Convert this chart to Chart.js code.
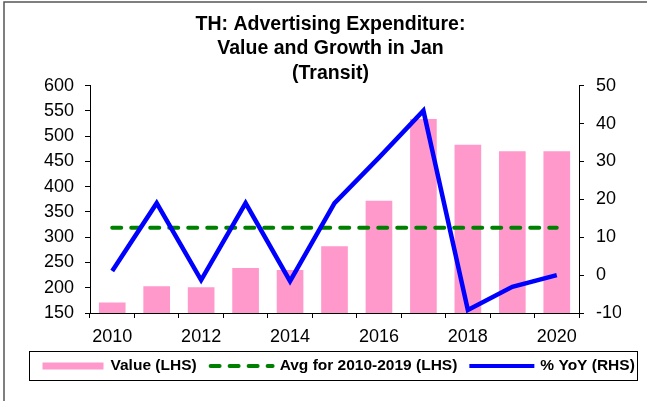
<!DOCTYPE html>
<html>
<head>
<meta charset="utf-8">
<script src="https://cdn.jsdelivr.net/npm/chart.js@4/dist/chart.umd.min.js"></script>
<style>
  body { margin: 0; background: #fff; }
  canvas { display: block; }
</style>
</head>
<body>
<canvas id="chart1" width="647" height="401"></canvas>
<script>
var years = ['2010', '2011', '2012', '2013', '2014', '2015', '2016', '2017', '2018', '2019', '2020'];
var valueLHS = [171, 203, 201, 239, 235, 282, 372, 534, 483, 470, 470];
var avgLHS = [319, 319, 319, 319, 319, 319, 319, 319, 319, 319, 319];
var yoyRHS = [1.1, 19.0, -1.3, 19.0, -1.6, 19.0, 31.0, 43.4, -9.2, -3.1, 0.0];

var FONT = "'Liberation Sans', Arial, sans-serif";

// frame + legend box drawn by hand
var extras = {
  id: 'extras',
  afterDraw: function (chart) {
    var ctx = chart.ctx;
    ctx.save();
    ctx.strokeStyle = '#555';
    ctx.lineWidth = 1.5;
    ctx.beginPath();
    ctx.moveTo(4, 401);
    ctx.lineTo(4, 2);
    ctx.lineTo(647, 2);
    ctx.stroke();

    // legend
    var bx = 29.5, by = 351.5, bw = 608, bh = 29;
    ctx.strokeStyle = '#000';
    ctx.lineWidth = 1;
    ctx.strokeRect(bx, by, bw, bh);
    var cy = by + bh / 2;
    ctx.font = 'bold 15.5px ' + FONT;
    ctx.fillStyle = '#000';
    ctx.textBaseline = 'middle';
    var x = bx + 13;

    ctx.fillStyle = '#FF99CC';
    ctx.fillRect(x, cy - 3.5, 61, 7);
    x += 61 + 7;
    ctx.fillStyle = '#000';
    var t1 = 'Value (LHS)';
    ctx.fillText(t1, x, cy);
    x += ctx.measureText(t1).width + 12;

    ctx.strokeStyle = '#008000';
    ctx.lineWidth = 4;
    ctx.lineCap = 'round';
    ctx.setLineDash([9, 10]);
    ctx.beginPath();
    ctx.moveTo(x + 2, cy);
    ctx.lineTo(x + 64, cy);
    ctx.stroke();
    ctx.setLineDash([]);
    x += 66 + 5;
    var t2 = 'Avg for 2010-2019 (LHS)';
    ctx.fillText(t2, x, cy);
    x += ctx.measureText(t2).width + 12;

    ctx.strokeStyle = '#0000FF';
    ctx.lineCap = 'butt';
    ctx.beginPath();
    ctx.moveTo(x, cy);
    ctx.lineTo(x + 65, cy);
    ctx.stroke();
    x += 65 + 6;
    ctx.fillText('% YoY (RHS)', x, cy);
    ctx.restore();
  }
};

var tickFont = { family: FONT, size: 18 };

var adChart = new Chart(document.getElementById('chart1'), {
  type: 'bar',
  data: {
    labels: years,
    datasets: [{
      label: 'Value (LHS)',
      data: valueLHS,
      backgroundColor: '#FF99CC',
      barPercentage: 0.6,
      categoryPercentage: 1,
      yAxisID: 'y',
      order: 2
    }, {
      type: 'line',
      label: 'Avg for 2010-2019 (LHS)',
      data: avgLHS,
      borderColor: '#008000',
      borderWidth: 4,
      borderDash: [9, 10],
      borderCapStyle: 'round',
      pointRadius: 0,
      yAxisID: 'y',
      order: 1
    }, {
      type: 'line',
      label: '% YoY (RHS)',
      data: yoyRHS,
      borderColor: '#0000FF',
      borderWidth: 4.5,
      pointRadius: 0,
      tension: 0,
      yAxisID: 'y1',
      order: 0
    }]
  },
  options: {
    responsive: false,
    animation: false,
    layout: { padding: { left: 40, right: 26, top: 8, bottom: 59 } },
    plugins: {
      legend: { display: false },
      tooltip: { enabled: false },
      title: {
        display: true,
        text: ['TH: Advertising Expenditure:', 'Value and Growth in Jan', '(Transit)'],
        color: '#000',
        font: { family: FONT, size: 19.5, weight: 'bold', lineHeight: 1.26 },
        padding: { top: 4, bottom: 0 }
      }
    },
    scales: {
      x: {
        grid: { drawOnChartArea: false, tickLength: 5, color: '#000', offset: true },
        border: { color: '#000', width: 1 },
        ticks: {
          color: '#000', font: tickFont, padding: 8, autoSkip: false, maxRotation: 0,
          callback: function (v, i) { return i % 2 === 0 ? years[i] : ''; }
        },
        afterFit: function (s) { s.height = 29; }
      },
      y: {
        position: 'left',
        min: 150, max: 600,
        grid: { drawOnChartArea: false, tickLength: 5, color: '#000' },
        border: { color: '#000', width: 1 },
        ticks: { stepSize: 50, color: '#000', font: tickFont, padding: 11 },
        afterFit: function (s) { s.width = 50; }
      },
      y1: {
        position: 'right',
        min: -10, max: 50,
        grid: { drawOnChartArea: false, tickLength: 5, color: '#000' },
        border: { color: '#000', width: 1 },
        ticks: { stepSize: 10, color: '#000', font: tickFont, padding: 12 },
        afterFit: function (s) { s.width = 42; }
      }
    }
  },
  plugins: [extras]
});
</script>
</body>
</html>
